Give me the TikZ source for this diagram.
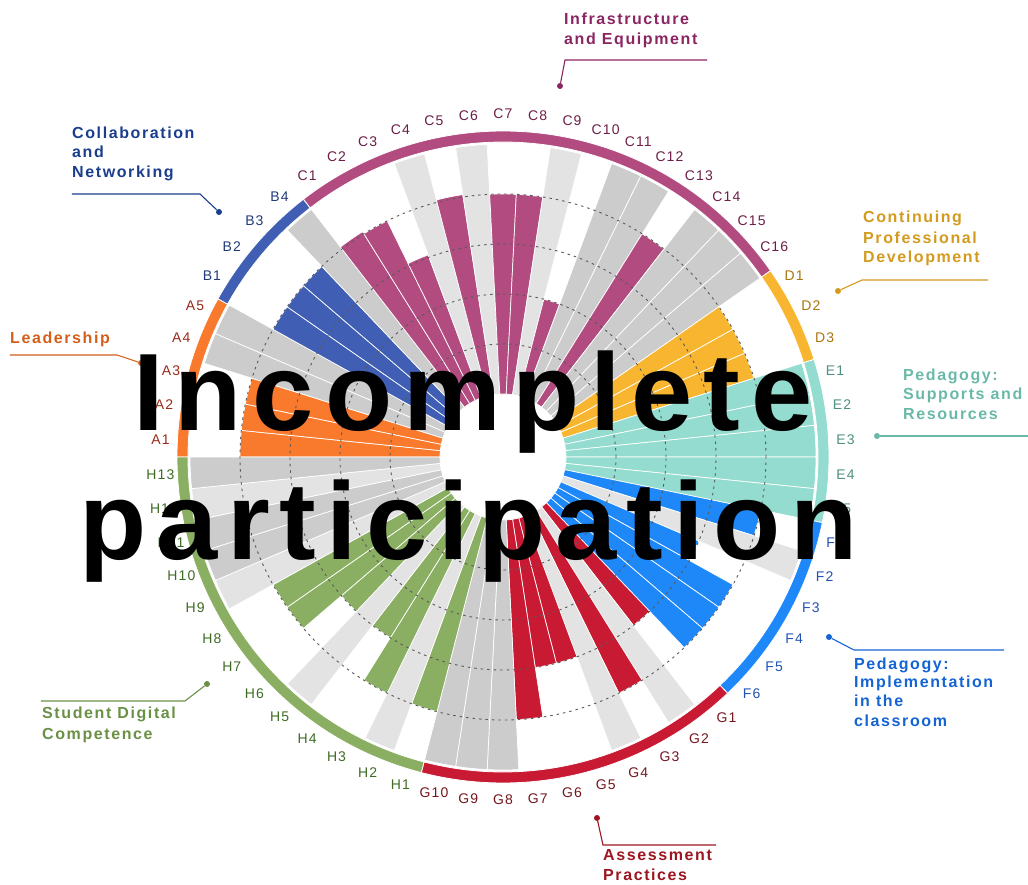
\documentclass[tikz,border=0pt]{standalone}
\usepackage{fontspec}
\setmainfont{Liberation Sans}
\newfontfamily\lblfont[LetterSpace=8]{Liberation Sans}
\newfontfamily\ttlfont[LetterSpace=10]{Liberation Sans}
\newfontfamily\bigfont[LetterSpace=10]{Liberation Sans}
\newfontfamily\bigfontb[LetterSpace=9]{Liberation Sans}
\definecolor{cA}{HTML}{F97A2C}
\definecolor{cB}{HTML}{405FB4}
\definecolor{cC}{HTML}{B24C80}
\definecolor{cD}{HTML}{F8B52F}
\definecolor{cE}{HTML}{93DCCF}
\definecolor{cF}{HTML}{1E88F8}
\definecolor{cG}{HTML}{C91A33}
\definecolor{cH}{HTML}{8BAF62}
\definecolor{cLG}{HTML}{E3E3E3}
\definecolor{cDG}{HTML}{CCCCCC}
\definecolor{lA}{HTML}{9A2B1B}
\definecolor{lB}{HTML}{223A78}
\definecolor{lC}{HTML}{6B1E47}
\definecolor{lD}{HTML}{A8760F}
\definecolor{lE}{HTML}{4E8F80}
\definecolor{lF}{HTML}{2052B5}
\definecolor{lG}{HTML}{74161E}
\definecolor{lH}{HTML}{3E6B24}
\definecolor{tA}{HTML}{D35F1B}
\definecolor{tB}{HTML}{1A3E8C}
\definecolor{tC}{HTML}{8A2561}
\definecolor{tD}{HTML}{D39A1E}
\definecolor{tE}{HTML}{6AB9A8}
\definecolor{tF}{HTML}{1464D4}
\definecolor{tG}{HTML}{9C1520}
\definecolor{tH}{HTML}{6A9045}
\begin{document}
\begin{tikzpicture}[x=1pt,y=1pt,
  slotlbl/.style={font=\lblfont\fontsize{14}{16}\selectfont, inner sep=0pt, anchor=center},
  ttl/.style={font=\ttlfont\bfseries\fontsize{16}{18}\selectfont, inner sep=0pt, anchor=base west},
  dotnode/.style={circle, fill, inner sep=0pt, minimum size=6pt},
  leader/.style={line width=1.1pt},
  gridline/.style={draw=black!65, line width=0.9pt, dash pattern=on 2.5pt off 4pt},
  bigtxt/.style={font=\bigfont\bfseries\fontsize{110}{110}\selectfont, inner sep=0pt, anchor=base west, text=black}]
\useasboundingbox (-503,-427) rectangle (525,457);
\def\dd{5.80645}
% bars
\foreach \i/\c/\v in {0/cA/80,1/cA/80,2/cA/80,3/cDG/100,4/cDG/100,
  5/cB/80,6/cB/80,7/cB/80,8/cDG/100,
  9/cC/81,10/cC/80,11/cC/61,12/cLG/100,13/cC/81,14/cLG/100,15/cC/80,16/cC/80,
  17/cLG/100,18/cC/40,19/cDG/100,20/cDG/100,21/cC/80,22/cDG/100,23/cDG/100,24/cDG/100,
  25/cD/80,26/cD/80,27/cD/80,
  28/cE/100,29/cE/100,30/cE/100,31/cE/100,32/cE/100,
  33/cF/80,34/cLG/100,35/cF/60,36/cF/80,37/cF/80,38/cF/80,
  39/cG/60,40/cLG/100,41/cG/80,42/cLG/100,43/cG/60,44/cG/60,45/cG/80,46/cDG/100,47/cDG/100,48/cDG/100,
  49/cH/80,50/cLG/100,51/cH/80,52/cH/60,53/cLG/100,54/cH/60,55/cH/80,56/cH/80,
  57/cLG/100,58/cDG/100,59/cDG/100,60/cLG/100,61/cDG/100}{
  \pgfmathsetmacro\aa{180-\i*\dd}
  \pgfmathsetmacro\ab{180-(\i+1)*\dd}
  \pgfmathsetmacro\rr{63+2.5*\v}
  \draw[fill=\c, draw=white, line width=0.7pt] (\aa:63pt) -- (\aa:\rr pt)
    arc[start angle=\aa, end angle=\ab, radius=\rr pt] -- (\ab:63pt)
    arc[start angle=\ab, end angle=\aa, radius=63pt] -- cycle;
}
% outer ring
\foreach \s/\n/\c in {0/5/cA,5/4/cB,9/16/cC,25/3/cD,28/5/cE,33/6/cF,39/10/cG,49/13/cH}{
  \pgfmathsetmacro\aa{180-\s*\dd}
  \pgfmathsetmacro\ab{180-(\s+\n)*\dd}
  \draw[fill=\c, draw=white, line width=0.8pt] (\aa:315pt)
    arc[start angle=\aa, end angle=\ab, radius=315pt] -- (\ab:326pt)
    arc[start angle=\ab, end angle=\aa, radius=326pt] -- cycle;
}
% grid circles
\foreach \r in {113,163,213,263}{
  \draw[gridline] (0,0) circle[radius=\r pt];
}
% slot labels
\foreach \i/\t/\c in {0/A1/lA,1/A2/lA,2/A3/lA,3/A4/lA,4/A5/lA,
  5/B1/lB,6/B2/lB,7/B3/lB,8/B4/lB,
  9/C1/lC,10/C2/lC,11/C3/lC,12/C4/lC,13/C5/lC,14/C6/lC,15/C7/lC,16/C8/lC,
  17/C9/lC,18/C10/lC,19/C11/lC,20/C12/lC,21/C13/lC,22/C14/lC,23/C15/lC,24/C16/lC,
  25/D1/lD,26/D2/lD,27/D3/lD,
  28/E1/lE,29/E2/lE,30/E3/lE,31/E4/lE,32/E5/lE,
  33/F1/lF,34/F2/lF,35/F3/lF,36/F4/lF,37/F5/lF,38/F6/lF,
  39/G1/lG,40/G2/lG,41/G3/lG,42/G4/lG,43/G5/lG,44/G6/lG,45/G7/lG,46/G8/lG,47/G9/lG,48/G10/lG,
  49/H1/lH,50/H2/lH,51/H3/lH,52/H4/lH,53/H5/lH,54/H6/lH,55/H7/lH,56/H8/lH,57/H9/lH,
  58/H10/lH,59/H11/lH,60/H12/lH,61/H13/lH}{
  \pgfmathsetmacro\am{180-(\i+0.5)*\dd}
  \node[slotlbl, text=\c] (lab\t) at (\am:343pt) {\t};
}
% category titles and leaders
% Infrastructure
\node[ttl, text=tC] (tC1) at (61,432) {Infrastructure};
\node[ttl, text=tC] (tC2) at (61,412) {and Equipment};
\node[dotnode, fill=tC] (dC) at (57,371) {};
\coordinate (kC) at (62,397);
\coordinate (eC) at (204,397);
\draw[leader, tC] (dC) -- (kC) -- (eC);
% Collaboration
\node[ttl, text=tB] (tB1) at (-431,318) {Collaboration};
\node[ttl, text=tB] (tB2) at (-431,299) {and};
\node[ttl, text=tB] (tB3) at (-431,279) {Networking};
\node[dotnode, fill=tB] (dB) at (-284,245) {};
\coordinate (sB) at (-431,263);
\coordinate (kB) at (-303,263);
\draw[leader, tB] (sB) -- (kB) -- (dB);
% Leadership
\node[ttl, text=tA] (tA1) at (-493,114) {Leadership};
\node[dotnode, fill=tA] (dA) at (-362,94) {};
\coordinate (sA) at (-493,102);
\coordinate (kA) at (-386,102);
\draw[leader, tA] (sA) -- (kA) -- (dA);
% Continuing Professional Development
\node[ttl, text=tD] (tD1) at (360,234) {Continuing};
\node[ttl, text=tD] (tD2) at (360,214) {Professional};
\node[ttl, text=tD] (tD3) at (360,195) {Development};
\node[dotnode, fill=tD] (dD) at (335,166) {};
\coordinate (kD) at (359,177);
\coordinate (eD) at (485,177);
\draw[leader, tD] (dD) -- (kD) -- (eD);
% Pedagogy supports
\node[ttl, text=tE] (tE1) at (400,77) {Pedagogy:};
\node[ttl, text=tE] (tE2) at (400,58) {Supports and};
\node[ttl, text=tE] (tE3) at (400,38) {Resources};
\node[dotnode, fill=tE] (dE) at (374,21) {};
\coordinate (eE) at (525,21);
\draw[leader, tE] (dE) -- (eE);
% Pedagogy implementation
\node[ttl, text=tF] (tF1) at (351,-212) {Pedagogy:};
\node[ttl, text=tF] (tF2) at (351,-230) {Implementation};
\node[ttl, text=tF] (tF3) at (351,-249) {in the};
\node[ttl, text=tF] (tF4) at (351,-269) {classroom};
\node[dotnode, fill=tF] (dF) at (326,-180) {};
\coordinate (kF) at (351,-193);
\coordinate (eF) at (501,-193);
\draw[leader, tF] (dF) -- (kF) -- (eF);
% Assessment
\node[ttl, text=tG] (tG1) at (100,-403) {Assessment};
\node[ttl, text=tG] (tG2) at (100,-423) {Practices};
\node[dotnode, fill=tG] (dG) at (94,-361) {};
\coordinate (kG) at (100,-388);
\coordinate (eG) at (213,-388);
\draw[leader, tG] (dG) -- (kG) -- (eG);
% Student Digital Competence
\node[ttl, text=tH] (tH1) at (-461,-261) {Student Digital};
\node[ttl, text=tH] (tH2) at (-461,-282) {Competence};
\node[dotnode, fill=tH] (dH) at (-296,-227) {};
\coordinate (sH) at (-462,-244);
\coordinate (kH) at (-318,-244);
\draw[leader, tH] (sH) -- (kH) -- (dH);
% overlay text
\node[bigtxt] (big1) at (-370,27) {Incomplete};
\node[bigtxt, font=\bigfontb\bfseries\fontsize{110}{110}\selectfont] (big2) at (-424,-102) {participation};
\end{tikzpicture}
\end{document}
